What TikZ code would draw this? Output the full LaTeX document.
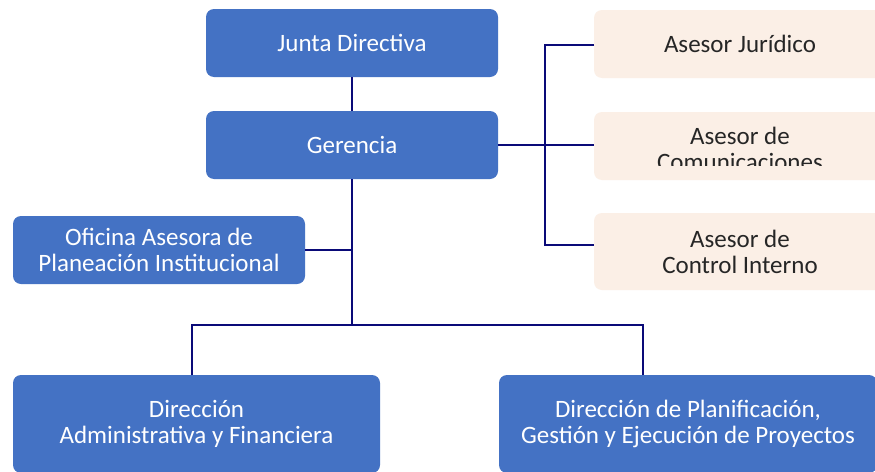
\documentclass[tikz,border=0pt]{standalone}
\usepackage{fontspec}
\setmainfont{Carlito}
\definecolor{boxblue}{HTML}{4472C4}
\definecolor{peach}{HTML}{FBEFE6}
\definecolor{navy}{HTML}{0A0A78}
\begin{document}
\begin{tikzpicture}[x=1pt,y=-1pt,
  txt/.style={font=\fontsize{25}{26}\selectfont,align=center,inner sep=0pt},
  bluebox/.style={txt,draw=none,fill=boxblue,rounded corners=8pt,text=white},
  peachbox/.style={txt,draw=none,fill=peach,rounded corners=8pt,text=black!85,minimum width=292pt},
  link/.style={draw=navy,line width=1.4pt}]
\useasboundingbox (0,0) rectangle (875,471);
\fill[white] (0,0) rectangle (875,471);
% blue boxes
\node[bluebox,minimum width=292pt,minimum height=68pt] (junta) at (352,43) {Junta Directiva};
\node[bluebox,minimum width=292pt,minimum height=68pt] (ger) at (352,145) {Gerencia};
\node[bluebox,minimum width=292pt,minimum height=68pt] (ofi) at (159,250) {Oficina Asesora de\\Planeación Institucional};
\node[bluebox,minimum width=367pt,minimum height=98pt] (dadm) at (196.5,424) {Dirección\\Administrativa y Financiera};
\node[bluebox,minimum width=378pt,minimum height=98pt] (dpla) at (688,424) {Dirección de Planificación,\\Gestión y Ejecución de Proyectos};
% peach boxes
\node[peachbox,minimum height=68pt] (jur) at (740,44) {Asesor Jurídico};
\node[peachbox,minimum height=68pt] (com) at (740,146) {};
\begin{scope}
\clip (594,100) rectangle (875,165);
\node[txt,text=black!85] (comtxt) at (740,149) {Asesor de\\Comunicaciones};
\end{scope}
\node[peachbox,minimum height=77pt] (ctl) at (740,251.5) {Asesor de\\Control Interno};
% connectors
\coordinate (hub) at (352,325);
\coordinate (ofij) at (352,250);
\coordinate (sp) at (545,145);
\coordinate (dadmtop) at (192,375);
\coordinate (dplatop) at (643,375);
\coordinate (jurw) at (594,45);
\coordinate (ctlw) at (594,245);
\draw[link] (junta.south) -- (ger.north);
\draw[link] (ger.south) -- (hub);
\draw[link] (ofi.east) -- (ofij);
\draw[link] (dadmtop) |- (hub) -| (dplatop);
\draw[link] (ger.east) -- (ger.east -| com.west);
\draw[link] (jurw) -| (sp) |- (ctlw);
\end{tikzpicture}
\end{document}
